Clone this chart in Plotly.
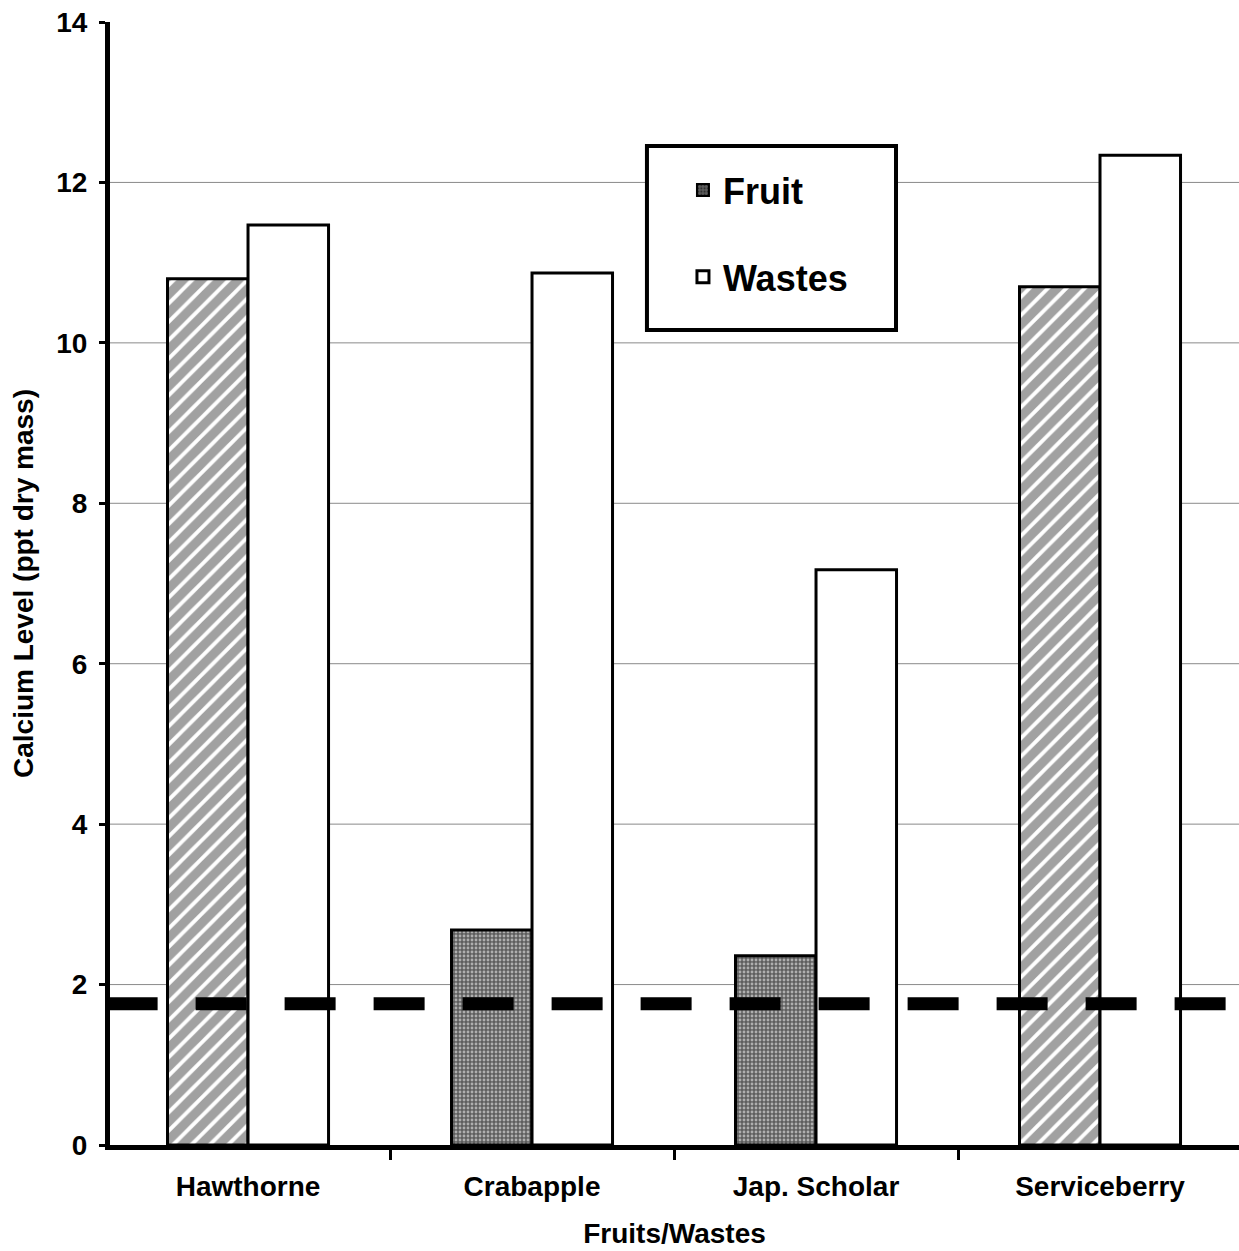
import plotly.graph_objects as go

# Calcium content of fruits and their wastes
categories = ["Hawthorne", "Crabapple", "Jap. Scholar", "Serviceberry"]
fruit_values = [10.80, 2.68, 2.36, 10.70]
waste_values = [11.47, 10.87, 7.17, 12.34]
threshold_value = 1.76
y_ticks = [0, 2, 4, 6, 8, 10, 12, 14]

FONT = "Liberation Sans, Arial, sans-serif"
BAR_W = 0.2835

# fruit fill: striped for two species, dense stipple for the other two
fruit_shape = ["/", ".", ".", "/"]
fruit_bg = ["white", "#5e5e5e", "#5e5e5e", "white"]
fruit_fg = ["#000000", "#000000", "#000000", "#000000"]
fruit_size = [13, 4, 4, 13]
fruit_solid = [0.7, 0.4, 0.4, 0.7]

fig = go.Figure()

fig.add_trace(go.Bar(
    x=categories, y=fruit_values, name="Fruit",
    offset=-BAR_W, width=BAR_W, showlegend=False,
    marker=dict(
        color=fruit_bg,
        line=dict(color="black", width=3),
        pattern=dict(shape=fruit_shape, bgcolor=fruit_bg, fgcolor=fruit_fg,
                     size=fruit_size, solidity=fruit_solid),
    ),
    legendgroup="fruit",
))

# legend entry for the fruit series (stipple swatch)
fig.add_trace(go.Bar(
    x=[None], y=[None], name="Fruit", legendgroup="fruit",
    marker=dict(
        color="#5e5e5e",
        line=dict(color="black", width=2),
        pattern=dict(shape=".", bgcolor="#5e5e5e", fgcolor="#000000",
                     size=4, solidity=0.4),
    ),
))

fig.add_trace(go.Bar(
    x=categories, y=waste_values, name="Wastes",
    offset=0, width=BAR_W, legendgroup="wastes",
    marker=dict(color="white", line=dict(color="black", width=3)),
))

# horizontal gridlines
for v in y_ticks[1:-1]:
    fig.add_shape(type="line", xref="paper", yref="y", x0=0, x1=1, y0=v, y1=v,
                  line=dict(color="#8a8a8a", width=1), layer="below")

# dashed threshold line
fig.add_shape(type="line", xref="paper", yref="y", x0=-0.003, x1=1,
              y0=threshold_value, y1=threshold_value,
              line=dict(color="black", width=13, dash="51px,38px"), layer="above")

# legend frame
fig.add_shape(type="rect", xref="paper", yref="paper",
              x0=0.4756, x1=0.6962, y0=0.7257, y1=0.8896,
              line=dict(color="black", width=4), fillcolor="white", layer="above")

fig.update_layout(
    width=1239, height=1251,
    margin=dict(l=110, r=0, t=22, b=106),
    paper_bgcolor="white", plot_bgcolor="white",
    barmode="overlay",
    font=dict(family=FONT, size=28, color="black", weight=700),
    legend=dict(
        x=0.5075, y=0.877, xanchor="left", yanchor="top",
        bgcolor="rgba(0,0,0,0)", borderwidth=0,
        font=dict(family=FONT, size=36, color="black", weight=700),
        tracegroupgap=37, traceorder="grouped",
    ),
    xaxis=dict(
        type="category", categoryorder="array", categoryarray=categories,
        range=[-0.486, 3.4894],
        showline=True, linecolor="black", linewidth=5,
        ticks="outside", ticklen=10, tickwidth=3, tickcolor="black",
        tickson="boundaries", showgrid=False, ticklabelstandoff=12,
        tickfont=dict(family=FONT, size=28, weight=700),
        title=dict(text="Fruits/Wastes", font=dict(family=FONT, size=28, weight=700),
                   standoff=24),
    ),
    yaxis=dict(
        range=[0, 14], tickvals=y_ticks,
        showline=True, linecolor="black", linewidth=5,
        ticks="outside", ticklen=6, tickwidth=3, tickcolor="black",
        showgrid=False, zeroline=False, ticklabelstandoff=6,
        tickfont=dict(family=FONT, size=28, weight=700),
        title=dict(text="Calcium Level (ppt dry mass)",
                   font=dict(family=FONT, size=28, weight=700), standoff=16),
    ),
)

fig.write_html("out.html")
